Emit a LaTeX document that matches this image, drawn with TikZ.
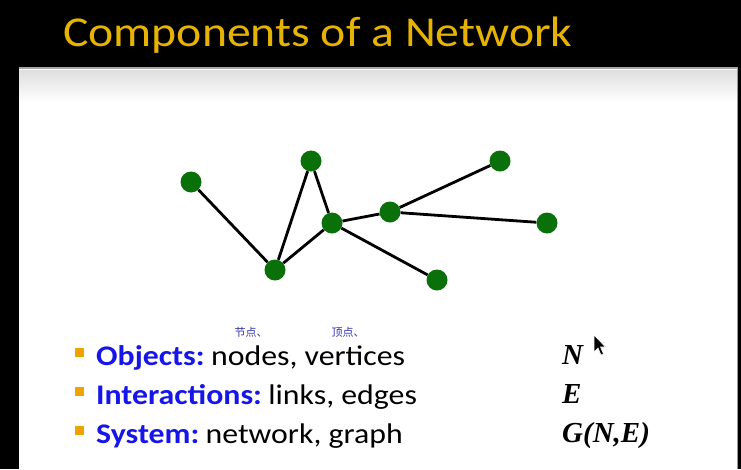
\documentclass[tikz,border=0pt]{standalone}
\usepackage{fontspec}
\setmainfont{Carlito}[FakeStretch=1.12]
\newfontfamily\mathserif{Liberation Serif}
\newfontfamily\cjk{Noto Sans CJK SC}
\usepackage{xcolor}
\definecolor{titlegold}{RGB}{230,180,0}
\definecolor{bulletorange}{RGB}{242,162,0}
\definecolor{keyblue}{RGB}{22,22,235}
\definecolor{netgreen}{RGB}{10,112,10}
\definecolor{inkblue}{RGB}{50,50,170}

\begin{document}
\begin{tikzpicture}[x=1pt, y=-1pt,
        vert/.style={draw=none, fill=netgreen, circle, inner sep=0pt, minimum size=21pt},
        link/.style={draw=black, line width=2.8pt},
        bulletsq/.style={fill=bulletorange, rectangle, inner sep=0pt, minimum size=9pt},
        item/.style={anchor=base west, inner sep=0pt, font=\fontsize{28.4}{33}\selectfont},
        sym/.style={anchor=base west, inner sep=0pt, font=\mathserif\bfseries\itshape\fontsize{29}{33}\selectfont},
        note/.style={inner sep=0pt, text=inkblue, font=\cjk\fontsize{11}{12}\selectfont}]
      \useasboundingbox (0,0) rectangle (741,469);
      % Fondo negro y panel blanco
      \fill[black] (0,0) rectangle (741,469);
      \fill[white] (19,67) rectangle (737,469);
      \shade[top color=gray!25, bottom color=white] (19,70) rectangle (737,102);
      \draw[gray!70, line width=2pt] (19,68) -- (737,68);
      \draw[gray!80, line width=0.8pt] (737.5,67) -- (737.5,469);
      % Titulo
      \node[anchor=base west, inner sep=0pt, text=titlegold,
            font=\fontsize{42.6}{48}\selectfont] (title) at (63,46) {Components of a Network};
      % Red de ejemplo
      \node[vert] (lft) at (191,182) {};
      \node[vert] (top) at (311,161) {};
      \node[vert] (low) at (275,270) {};
      \node[vert] (hub) at (332,223) {};
      \node[vert] (mid) at (390,212) {};
      \node[vert] (tr)  at (500,161) {};
      \node[vert] (rgt) at (547,223) {};
      \node[vert] (br)  at (437,280) {};
      \draw[link] (lft) -- (low);
      \draw[link] (low) -- (top);
      \draw[link] (top) -- (hub);
      \draw[link] (low) -- (hub);
      \draw[link] (hub) -- (mid);
      \draw[link] (mid) -- (tr);
      \draw[link] (mid) -- (rgt);
      \draw[link] (hub) -- (br);
      % Lista de componentes
      \foreach \yy/\key/\rest/\nm in {365/Objects:/{nodes, vertices}/obj,
                                     404/Interactions:/{links, edges}/int,
                                     443/System:/{network, graph}/sys} {
        \node[bulletsq] (b\nm) at (79.5,\yy-13) {};
        \node[item, text=keyblue] (k\nm) at (96,\yy) {\bfseries\key};
        \node[item, anchor=base west] (r\nm) at ([xshift=6pt]k\nm.base east) {\rest};
      }
      % Notas a mano
      \node[note] (n1) at (251,332) {节点、};
      \node[note] (n2) at (348,332) {顶点、};
      % Simbolos
      \node[sym] (sN) at (562,364) {N};
      \node[sym] (sE) at (562,403) {E};
      \node[sym] (sG) at (562,442) {G(N,E)};
      % Cursor
      \filldraw[fill=black, draw=white, line width=0.6pt]
        (594,335) -- (594,352) -- (598,348) -- (601,355) -- (603.5,354) -- (600.5,347) -- (605.5,347) -- cycle;
    \end{tikzpicture}
\end{document}
